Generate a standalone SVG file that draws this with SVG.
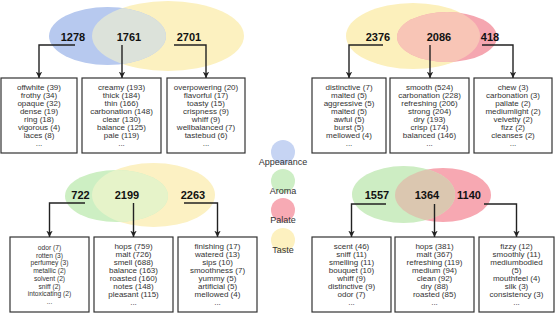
<svg xmlns="http://www.w3.org/2000/svg" width="555" height="313" viewBox="0 0 555 313">
<style>
.num{font-family:"Liberation Sans",Arial,sans-serif;font-size:11px;font-weight:bold;fill:#111;text-anchor:middle}
.lst{font-family:"Liberation Sans",Arial,sans-serif;font-size:8px;fill:#333;text-anchor:middle}
.lst2{font-family:"Liberation Sans",Arial,sans-serif;font-size:6.7px;fill:#333;text-anchor:middle}
.leg{font-family:"Liberation Sans",Arial,sans-serif;font-size:9px;fill:#333;text-anchor:middle}
.box{fill:#fff;stroke:#333;stroke-width:1.2}
.con{fill:none;stroke:#222;stroke-width:1.4;marker-end:url(#ah)}
</style>
<defs>
<marker id="ah" viewBox="0 0 10 10" refX="10" refY="5" markerWidth="4.6" markerHeight="4.6" orient="auto" markerUnits="strokeWidth">
<path d="M0,0 L10,5 L0,10 L3,5 z" fill="#222"/>
</marker>
<clipPath id="c1"><ellipse cx="107.5" cy="36" rx="58.5" ry="29"/></clipPath>
<clipPath id="c2"><ellipse cx="413" cy="36" rx="67" ry="33"/></clipPath>
<clipPath id="c3"><ellipse cx="116.5" cy="196" rx="51.5" ry="26"/></clipPath>
<clipPath id="c4"><ellipse cx="403.5" cy="194.5" rx="51.5" ry="28.5"/></clipPath>
</defs>

<g id="venn-appearance-taste">
<ellipse cx="168" cy="36" rx="76" ry="35" fill="#fcf1c0"/>
<ellipse cx="107.5" cy="36" rx="58.5" ry="29" fill="#b7c9ef"/>
<ellipse cx="168" cy="36" rx="76" ry="35" fill="#dce2da" clip-path="url(#c1)"/>
<text class="num" x="73" y="41">1278</text>
<text class="num" x="129" y="41">1761</text>
<text class="num" x="189" y="41">2701</text>
</g>

<g id="venn-taste-palate">
<ellipse cx="413" cy="36" rx="67" ry="33" fill="#fcf0bc"/>
<ellipse cx="447" cy="37" rx="50" ry="25" fill="#f5a6b0"/>
<ellipse cx="447" cy="37" rx="50" ry="25" fill="#f8c5b6" clip-path="url(#c2)"/>
<text class="num" x="378" y="41">2376</text>
<text class="num" x="439" y="41">2086</text>
<text class="num" x="490" y="41">418</text>
</g>

<g id="venn-aroma-taste">
<ellipse cx="153.5" cy="195" rx="61.5" ry="32" fill="#fcf1c3"/>
<ellipse cx="116.5" cy="196" rx="51.5" ry="26" fill="#cdefc3"/>
<ellipse cx="153.5" cy="195" rx="61.5" ry="32" fill="#e6f3c9" clip-path="url(#c3)"/>
<text class="num" x="80.5" y="199">722</text>
<text class="num" x="127" y="199">2199</text>
<text class="num" x="193" y="199">2263</text>
</g>

<g id="venn-aroma-palate">
<ellipse cx="443" cy="195" rx="48" ry="27" fill="#f7a8b2"/>
<ellipse cx="403.5" cy="194.5" rx="51.5" ry="28.5" fill="#cdedc3"/>
<ellipse cx="443" cy="195" rx="48" ry="27" fill="#dbc7b0" clip-path="url(#c4)"/>
<text class="num" x="377" y="199">1557</text>
<text class="num" x="427" y="199">1364</text>
<text class="num" x="469" y="199">1140</text>
</g>

<g id="legend">
<circle cx="283" cy="152" r="12" fill="#c6d4f3"/>
<text class="leg" x="283" y="165">Appearance</text>
<circle cx="283" cy="181" r="12" fill="#cdeec5"/>
<text class="leg" x="283" y="194">Aroma</text>
<circle cx="283" cy="210" r="12" fill="#f7aab4"/>
<text class="leg" x="283" y="223">Palate</text>
<circle cx="283" cy="240" r="12" fill="#fdf1c0"/>
<text class="leg" x="283" y="253">Taste</text>
</g>

<g id="box-tl1">
<rect class="box" x="1" y="78" width="76" height="75"/>
<text class="lst" x="39"><tspan x="39" y="90">offwhite (39)</tspan><tspan x="39" y="98">frothy (34)</tspan><tspan x="39" y="106">opaque (32)</tspan><tspan x="39" y="114">dense (19)</tspan><tspan x="39" y="122">ring (18)</tspan><tspan x="39" y="130">vigorous (4)</tspan><tspan x="39" y="138">laces (8)</tspan><tspan x="39" y="146">...</tspan></text>
</g>
<g id="box-tl2">
<rect class="box" x="82" y="78" width="79" height="75"/>
<text class="lst" x="121.5"><tspan x="121.5" y="90">creamy (193)</tspan><tspan x="121.5" y="98">thick (184)</tspan><tspan x="121.5" y="106">thin (166)</tspan><tspan x="121.5" y="114">carbonation (148)</tspan><tspan x="121.5" y="122">clear (130)</tspan><tspan x="121.5" y="130">balance (125)</tspan><tspan x="121.5" y="138">pale (119)</tspan><tspan x="121.5" y="146">...</tspan></text>
</g>
<g id="box-tl3">
<rect class="box" x="167" y="78" width="78" height="75"/>
<text class="lst" x="206"><tspan x="206" y="90">overpowering (20)</tspan><tspan x="206" y="98">flavorful (17)</tspan><tspan x="206" y="106">toasty (15)</tspan><tspan x="206" y="114">crispness (9)</tspan><tspan x="206" y="122">whiff (9)</tspan><tspan x="206" y="130">wellbalanced (7)</tspan><tspan x="206" y="138">tastebud (6)</tspan><tspan x="206" y="146">...</tspan></text>
</g>

<g id="box-tr1">
<rect class="box" x="312" y="78" width="74" height="75"/>
<text class="lst" x="349"><tspan x="349" y="90">distinctive (7)</tspan><tspan x="349" y="98">malted (5)</tspan><tspan x="349" y="106">aggressive (5)</tspan><tspan x="349" y="114">malted (5)</tspan><tspan x="349" y="122">awful (5)</tspan><tspan x="349" y="130">burst (5)</tspan><tspan x="349" y="138">mellowed (4)</tspan><tspan x="349" y="146">...</tspan></text>
</g>
<g id="box-tr2">
<rect class="box" x="390" y="78" width="79" height="75"/>
<text class="lst" x="429.5"><tspan x="429.5" y="90">smooth (524)</tspan><tspan x="429.5" y="98">carbonation (228)</tspan><tspan x="429.5" y="106">refreshing (206)</tspan><tspan x="429.5" y="114">strong (204)</tspan><tspan x="429.5" y="122">dry (193)</tspan><tspan x="429.5" y="130">crisp (174)</tspan><tspan x="429.5" y="138">balanced (146)</tspan><tspan x="429.5" y="146">...</tspan></text>
</g>
<g id="box-tr3">
<rect class="box" x="474" y="78" width="78" height="75"/>
<text class="lst" x="513"><tspan x="513" y="90">chew (3)</tspan><tspan x="513" y="98">carbonation (3)</tspan><tspan x="513" y="106">pallate (2)</tspan><tspan x="513" y="114">mediumlight (2)</tspan><tspan x="513" y="122">velvetty (2)</tspan><tspan x="513" y="130">fizz (2)</tspan><tspan x="513" y="138">cleanses (2)</tspan><tspan x="513" y="146">...</tspan></text>
</g>

<g id="box-bl1">
<rect class="box" x="10" y="237" width="79" height="75"/>
<text class="lst2" x="49.5"><tspan x="49.5" y="250">odor (7)</tspan><tspan x="49.5" y="257.7">rotten (3)</tspan><tspan x="49.5" y="265.4">perfumey (3)</tspan><tspan x="49.5" y="273.1">metallic (2)</tspan><tspan x="49.5" y="280.8">solvent (2)</tspan><tspan x="49.5" y="288.5">sniff (2)</tspan><tspan x="49.5" y="296.2">intoxicating (2)</tspan><tspan x="49.5" y="304">...</tspan></text>
</g>
<g id="box-bl2">
<rect class="box" x="94" y="237" width="79" height="75"/>
<text class="lst" x="133.5"><tspan x="133.5" y="249">hops (759)</tspan><tspan x="133.5" y="257">malt (726)</tspan><tspan x="133.5" y="265">smell (688)</tspan><tspan x="133.5" y="273">balance (163)</tspan><tspan x="133.5" y="281">roasted (160)</tspan><tspan x="133.5" y="289">notes (148)</tspan><tspan x="133.5" y="297">pleasant (115)</tspan><tspan x="133.5" y="305">...</tspan></text>
</g>
<g id="box-bl3">
<rect class="box" x="178" y="237" width="79" height="75"/>
<text class="lst" x="217.5"><tspan x="217.5" y="249">finishing (17)</tspan><tspan x="217.5" y="257">watered (13)</tspan><tspan x="217.5" y="265">sips (10)</tspan><tspan x="217.5" y="273">smoothness (7)</tspan><tspan x="217.5" y="281">yummy (5)</tspan><tspan x="217.5" y="289">artificial (5)</tspan><tspan x="217.5" y="297">mellowed (4)</tspan><tspan x="217.5" y="305">...</tspan></text>
</g>

<g id="box-br1">
<rect class="box" x="312" y="237" width="79" height="75"/>
<text class="lst" x="351.5"><tspan x="351.5" y="249">scent (46)</tspan><tspan x="351.5" y="257">sniff (11)</tspan><tspan x="351.5" y="265">smelling (11)</tspan><tspan x="351.5" y="273">bouquet (10)</tspan><tspan x="351.5" y="281">whiff (9)</tspan><tspan x="351.5" y="289">distinctive (9)</tspan><tspan x="351.5" y="297">odor (7)</tspan><tspan x="351.5" y="305">...</tspan></text>
</g>
<g id="box-br2">
<rect class="box" x="395" y="237" width="79" height="75"/>
<text class="lst" x="434.5"><tspan x="434.5" y="249">hops (381)</tspan><tspan x="434.5" y="257">malt (367)</tspan><tspan x="434.5" y="265">refreshing (119)</tspan><tspan x="434.5" y="273">medium (94)</tspan><tspan x="434.5" y="281">clean (92)</tspan><tspan x="434.5" y="289">dry (88)</tspan><tspan x="434.5" y="297">roasted (85)</tspan><tspan x="434.5" y="305">...</tspan></text>
</g>
<g id="box-br3">
<rect class="box" x="479" y="237" width="75" height="75"/>
<text class="lst" x="516.5"><tspan x="516.5" y="249">fizzy (12)</tspan><tspan x="516.5" y="257">smoothly (11)</tspan><tspan x="516.5" y="265">mediumbodied</tspan><tspan x="516.5" y="273">(5)</tspan><tspan x="516.5" y="281">mouthfeel (4)</tspan><tspan x="516.5" y="289">silk (3)</tspan><tspan x="516.5" y="297">consistency (3)</tspan><tspan x="516.5" y="305">...</tspan></text>
</g>

<g id="connectors">
<path class="con" d="M75,45 H39 V78"/>
<path class="con" d="M122,45 V78"/>
<path class="con" d="M174,45 H206 V78"/>
<path class="con" d="M383,45 H349 V78"/>
<path class="con" d="M430,45 V78"/>
<path class="con" d="M482,45 H513 V78"/>
<path class="con" d="M85,203 H49.5 V237"/>
<path class="con" d="M133.5,203 V237"/>
<path class="con" d="M184,203 H217.5 V237"/>
<path class="con" d="M386,204 H351.5 V237"/>
<path class="con" d="M434.5,204 V237"/>
<path class="con" d="M484,204 H516.5 V237"/>
</g>
</svg>
